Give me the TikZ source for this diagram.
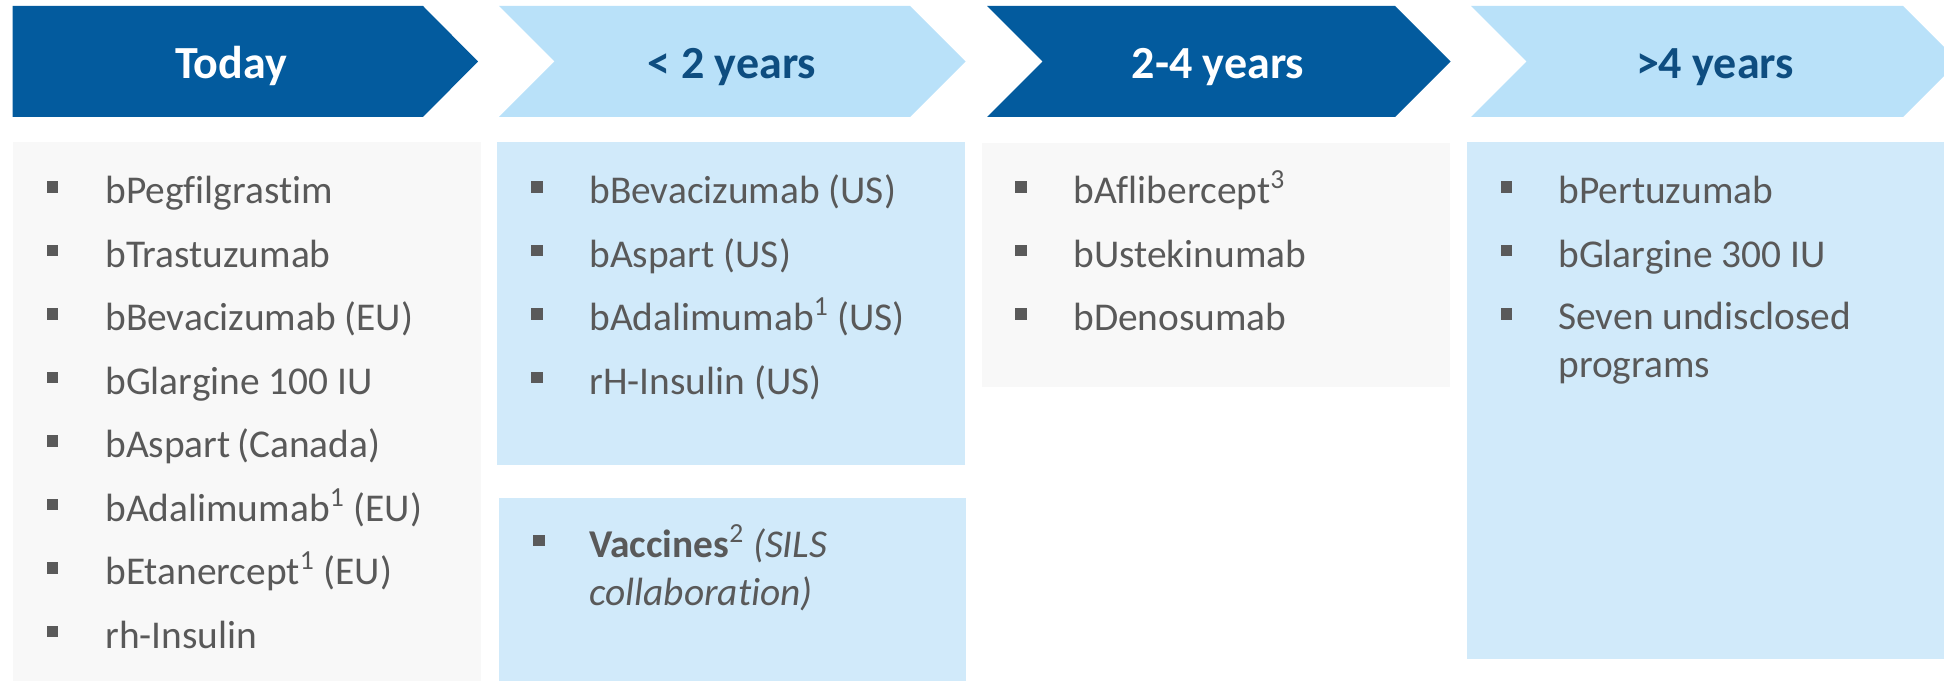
\documentclass[tikz,border=0pt]{standalone}
\usepackage{fontspec}
\setmainfont[Ligatures=NoCommon]{Carlito}
\definecolor{darkarrow}{HTML}{035B9E}
\definecolor{lightarrow}{HTML}{B9E1F9}
\definecolor{headtxt}{HTML}{0E4D80}
\definecolor{greybox}{HTML}{F8F8F8}
\definecolor{bluebox}{HTML}{D1EAFA}
\definecolor{txtgrey}{HTML}{595959}
\definecolor{bulgrey}{HTML}{5A5A5A}
\begin{document}
\begin{tikzpicture}[x=0.5pt,y=-0.5pt,
  itemtext/.style={anchor=base west, inner sep=0pt, text=txtgrey, font=\fontsize{19.7}{24}\selectfont},
  multitext/.style={itemtext, align=left},
  bul/.style={fill=bulgrey, minimum size=5.8pt, inner sep=0pt, draw=none},
  headtext/.style={anchor=base, inner sep=0pt, font=\fontsize{23}{28}\selectfont\bfseries},
  darkhead/.style={fill=darkarrow},
  lighthead/.style={fill=lightarrow},
  greypanel/.style={fill=greybox},
  bluepanel/.style={fill=bluebox}]
\useasboundingbox (0,0) rectangle (1944,683);
\clip (0,0) rectangle (1944,683);
% header chevrons
\fill[darkhead] (12.7,6) -- (423,6) -- (478,61.5) -- (423,117) -- (12.7,117) -- cycle;
\fill[lighthead] (499,6) -- (910,6) -- (965.5,61.5) -- (910,117) -- (499,117) -- (554.5,61.5) -- cycle;
\fill[darkhead] (987,6) -- (1395,6) -- (1450.5,61.5) -- (1395,117) -- (987,117) -- (1042.5,61.5) -- cycle;
\fill[lighthead] (1471,6) -- (1903,6) -- (1958.5,61.5) -- (1903,117) -- (1471,117) -- (1526.5,61.5) -- cycle;
\node[headtext, text=white] (h1) at (231,78.5) {Today};
\node[headtext, text=headtxt] (h2) at (732,78.5) {< 2 years};
\node[headtext, text=white] (h3) at (1218,78.5) {2-4 years};
\node[headtext, text=headtxt] (h4) at (1715,78.5) {>4 years};
% panels
\fill[greypanel] (12.7,141.7) rectangle (481,681);
\fill[bluepanel] (497,142) rectangle (965,465);
\fill[bluepanel] (498.7,498) rectangle (966,681);
\fill[greypanel] (982,143) rectangle (1450,387);
\fill[bluepanel] (1467,142) rectangle (1950,659);
% column 1
\node[bul] (a1b) at (52.5,187) {};
\node[itemtext] (a1) at (105,204) {bPegfilgrastim};
\node[bul] (a2b) at (52.5,250.5) {};
\node[itemtext] (a2) at (105,267.5) {bTrastuzumab};
\node[bul] (a3b) at (52.5,314) {};
\node[itemtext] (a3) at (105,331) {bBevacizumab (EU)};
\node[bul] (a4b) at (52.5,377.5) {};
\node[itemtext] (a4) at (105,394.5) {bGlargine 100 IU};
\node[bul] (a5b) at (52.5,441) {};
\node[itemtext] (a5) at (105,458) {bAspart\,(Canada)};
\node[bul] (a6b) at (52.5,504.5) {};
\node[itemtext] (a6) at (105,521.5) {bAdalimumab\textsuperscript{1} (EU)};
\node[bul] (a7b) at (52.5,568) {};
\node[itemtext] (a7) at (105,585) {bEtanercept\textsuperscript{1} (EU)};
\node[bul] (a8b) at (52.5,631.5) {};
\node[itemtext] (a8) at (105,648.5) {rh-Insulin};
% column 2
\node[bul] (b1b) at (537,187) {};
\node[itemtext] (b1) at (589,204) {bBevacizumab (US)};
\node[bul] (b2b) at (537,250.5) {};
\node[itemtext] (b2) at (589,267.5) {bAspart (US)};
\node[bul] (b3b) at (537,314) {};
\node[itemtext] (b3) at (589,331) {bAdalimumab\textsuperscript{1} (US)};
\node[bul] (b4b) at (537,377.5) {};
\node[itemtext] (b4) at (589,394.5) {rH-Insulin (US)};
\node[bul] (b5b) at (539,540.5) {};
\node[multitext] (b5) at (589,606) {\textbf{Vaccines}\textsuperscript{2} \textit{(SILS}\\\textit{collaboration)}};
% column 3
\node[bul] (c1b) at (1021,187) {};
\node[itemtext] (c1) at (1073,204) {bAflibercept\textsuperscript{3}};
\node[bul] (c2b) at (1021,250.5) {};
\node[itemtext] (c2) at (1073,267.5) {bUstekinumab};
\node[bul] (c3b) at (1021,314) {};
\node[itemtext] (c3) at (1073,331) {bDenosumab};
% column 4
\node[bul] (d1b) at (1506.5,187) {};
\node[itemtext] (d1) at (1558,204) {bPertuzumab};
\node[bul] (d2b) at (1506.5,250.5) {};
\node[itemtext] (d2) at (1558,267.5) {bGlargine 300 IU};
\node[bul] (d3b) at (1506.5,314) {};
\node[multitext] (d3) at (1558,378) {Seven undisclosed\\programs};
\end{tikzpicture}
\end{document}
